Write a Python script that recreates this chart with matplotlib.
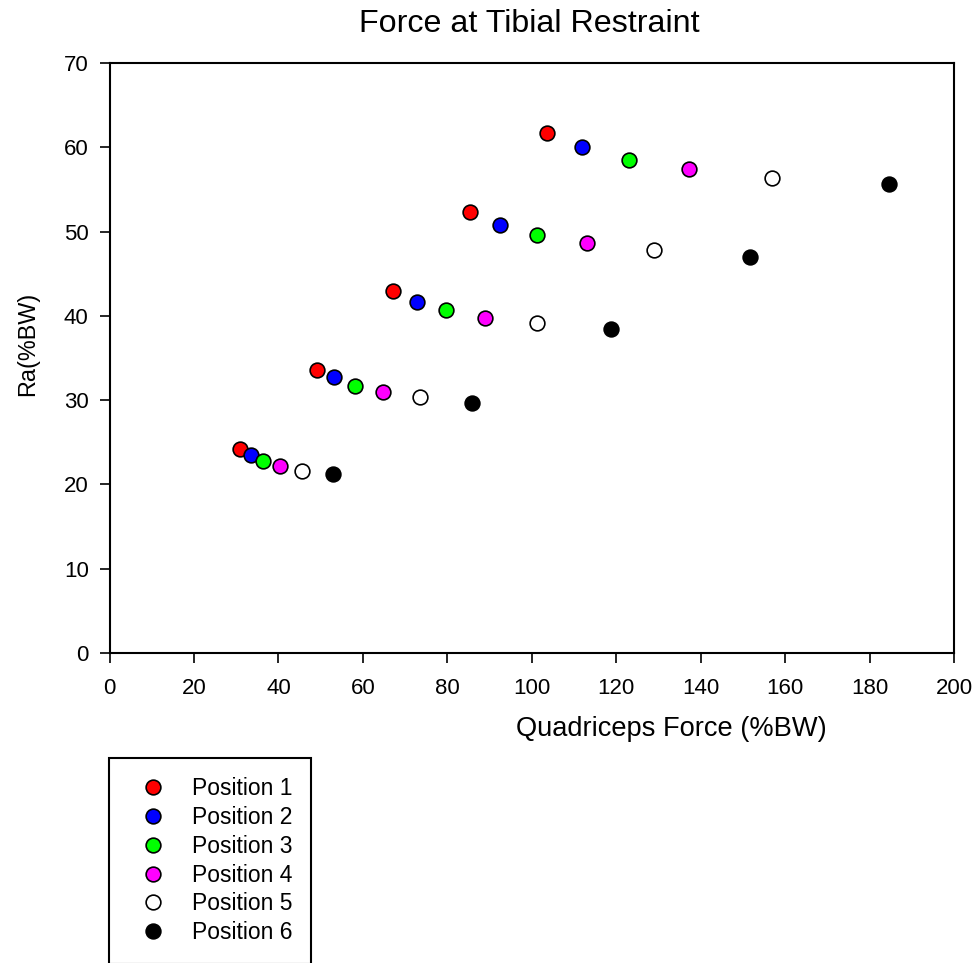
import matplotlib
matplotlib.use("Agg")
import matplotlib.pyplot as plt

plt.rcParams['font.family'] = ['Liberation Sans', 'DejaVu Sans']

# Data: each position has one point per load group (5 groups)
pos1_x = [30.9, 49.1, 67.2, 85.4, 103.5]
pos1_y = [24.2, 33.6, 43.0, 52.3, 61.7]
pos2_x = [33.4, 53.2, 72.8, 92.5, 112.0]
pos2_y = [23.5, 32.7, 41.7, 50.8, 60.0]
pos3_x = [36.4, 58.1, 79.7, 101.3, 123.0]
pos3_y = [22.8, 31.7, 40.7, 49.6, 58.5]
pos4_x = [40.4, 64.7, 88.9, 113.2, 137.3]
pos4_y = [22.2, 31.0, 39.8, 48.6, 57.4]
pos5_x = [45.6, 73.5, 101.2, 129.0, 156.9]
pos5_y = [21.6, 30.4, 39.1, 47.8, 56.4]
pos6_x = [53.0, 85.8, 118.8, 151.7, 184.6]
pos6_y = [21.2, 29.7, 38.4, 47.0, 55.7]

labels = ["Position 1", "Position 2", "Position 3", "Position 4", "Position 5", "Position 6"]
colors = ["#FF0000", "#0000FF", "#00FF00", "#FF00FF", "#FFFFFF", "#000000"]
series = [(pos1_x, pos1_y), (pos2_x, pos2_y), (pos3_x, pos3_y),
          (pos4_x, pos4_y), (pos5_x, pos5_y), (pos6_x, pos6_y)]

W, H = 980, 963
fig = plt.figure(figsize=(W / 100, H / 100), dpi=100)
x0, x1 = 109.5, 954.0
ytop, ybot = 63.0, 653.0
ax = fig.add_axes([x0 / W, 1 - ybot / H, (x1 - x0) / W, (ybot - ytop) / H])

handles = []
for (xs, ys), c, lab in zip(series, colors, labels):
    h, = ax.plot(xs, ys, linestyle='none', marker='o', markersize=10.6,
                 markerfacecolor=c, markeredgecolor='black', markeredgewidth=1.2,
                 label=lab, clip_on=False)
    handles.append(h)

ax.set_xlim(0, 200)
ax.set_ylim(0, 70)
ax.set_xticks(range(0, 201, 20))
ax.set_yticks(range(0, 71, 10))
for s in ax.spines.values():
    s.set_linewidth(1.5)
ax.tick_params(axis='both', direction='out', length=7, width=1.2, labelsize=16)
ax.tick_params(axis='x', pad=11)
ax.tick_params(axis='y', pad=8)

aw = x1 - x0
ah = ybot - ytop
ax.text((529 - x0) / aw, (ybot - 32) / ah, "Force at Tibial Restraint",
        transform=ax.transAxes, ha='center', va='baseline', fontsize=23.2)
ax.set_xlabel("Quadriceps Force (%BW)", fontsize=19.6, va='baseline', ha='center')
ax.xaxis.set_label_coords((671 - x0) / aw, (ybot - 736) / ah)
ax.set_ylabel("Ra(%BW)", fontsize=16.8, va='center', ha='center')
ax.yaxis.set_label_coords((28 - x0) / aw, (ybot - 344) / ah)

leg = fig.legend(handles=handles, labels=labels, loc='upper left',
                 bbox_to_anchor=(109 / W, 1 - 758 / H), bbox_transform=fig.transFigure,
                 borderaxespad=0, fontsize=16.5, frameon=True, fancybox=False,
                 shadow=False, borderpad=0.85, handlelength=2.1, handletextpad=0.65,
                 labelspacing=0.25, numpoints=1)
leg.get_frame().set_edgecolor('black')
leg.get_frame().set_linewidth(1.5)
leg.get_frame().set_alpha(1)

fig.savefig("out.png", dpi=100)
